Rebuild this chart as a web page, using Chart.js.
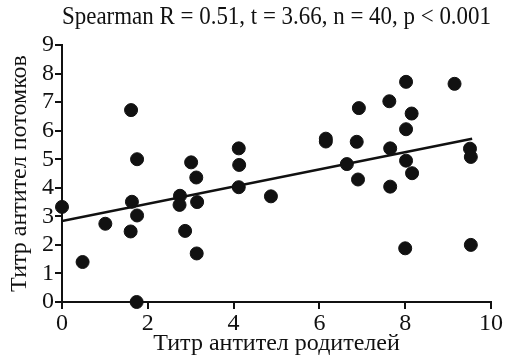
<!DOCTYPE html>
<html>
<head>
<meta charset="utf-8">
<script src="https://cdn.jsdelivr.net/npm/chart.js@4/dist/chart.umd.min.js"></script>
<style>
  html, body { margin: 0; padding: 0; background: #fff; }
  #wrap { width: 506px; height: 358px; }
</style>
</head>
<body>
<div id="wrap"><canvas id="myChart" width="506" height="358"></canvas></div>
<script>
// titre of parents (x) vs titre of offspring (y)
var parentTiter = [0, 0.48, 1.01, 1.61, 1.75, 1.63, 1.75, 1.60, 1.74, 2.75,
  2.74, 3.01, 3.13, 3.15, 2.87, 3.14, 4.12, 4.13, 4.12, 4.87,
  6.15, 6.15, 6.87, 6.92, 6.64, 6.90, 7.63, 7.65, 7.65, 8.02,
  8.15, 8.02, 8.02, 8.16, 8.00, 9.15, 9.51, 9.53, 9.53];
var childTiter = [3.33, 1.40, 2.74, 6.72, 5.00, 3.51, 3.03, 2.47, 0, 3.72,
  3.40, 4.89, 4.36, 3.50, 2.49, 1.70, 5.38, 4.80, 4.02, 3.70,
  5.62, 5.72, 5.61, 6.79, 4.83, 4.29, 7.03, 5.38, 4.04, 7.71,
  6.60, 6.05, 4.95, 4.51, 1.88, 7.64, 5.37, 5.08, 2.00];

var fitX = [0, 9.56];
var fitY = [2.84, 5.72];

var titleText = "Spearman R = 0.51, t = 3.66, n = 40, p < 0.001";
var xTitle = "Титр антител родителей";
var yTitle = "Титр антител потомков";

function toPoints(xs, ys) {

  var pts = [];

  for (var i = 0; i < xs.length; i++) {

    pts.push({ x: xs[i], y: ys[i] });
  }

  return pts;
}

var serif = "'Liberation Serif', 'Times New Roman', serif";

var ctx = document.getElementById("myChart");
var myChart = new Chart(ctx, {
  type: 'scatter',
  data: {
    datasets: [
      {
        data: toPoints(parentTiter, childTiter),
        backgroundColor: "#111",
        borderColor: "#111",
        pointRadius: 6.5,
        pointHoverRadius: 6.5,
        clip: false
      },
      {
        type: 'line',
        data: toPoints(fitX, fitY),
        borderColor: "#111",
        borderWidth: 2.5,
        pointRadius: 0,
        fill: false
      }
    ]
  },
  options: {
    responsive: false,
    animation: false,
    layout: { padding: { left: 0, right: 15, top: 0, bottom: 0 } },
    plugins: {
      legend: { display: false },
      tooltip: { enabled: false },
      title: {
        display: true,
        text: titleText,
        fullSize: false,
        color: "#111",
        font: { family: serif, size: 25, weight: 'normal' },
        padding: { top: 2, bottom: 13 }
      }
    },
    scales: {
      x: {
        type: 'linear',
        min: 0,
        max: 10,
        ticks: { stepSize: 2, color: "#111", padding: 0, maxRotation: 0, autoSkip: false,
          font: { family: serif, size: 24 } },
        grid: { drawOnChartArea: false, drawTicks: true, tickLength: 7, color: "#111", lineWidth: 2 },
        border: { color: "#111", width: 2 },
        title: { display: true, text: xTitle, color: "#111",
          font: { family: serif, size: 24 }, padding: { top: 0, bottom: 0 } },
        afterFit: function(scale) { scale.height = 56; }
      },
      y: {
        min: 0,
        max: 9,
        ticks: { stepSize: 1, color: "#111", padding: 1, autoSkip: false,
          font: { family: serif, size: 24 } },
        grid: { drawOnChartArea: false, drawTicks: true, tickLength: 7, color: "#111", lineWidth: 2 },
        border: { color: "#111", width: 2 },
        title: { display: true, text: yTitle, color: "#111",
          font: { family: serif, size: 24 }, padding: { top: 5, bottom: 0 } },
        afterFit: function(scale) { scale.width = 62; }
      }
    }
  }
});
</script>
</body>
</html>
